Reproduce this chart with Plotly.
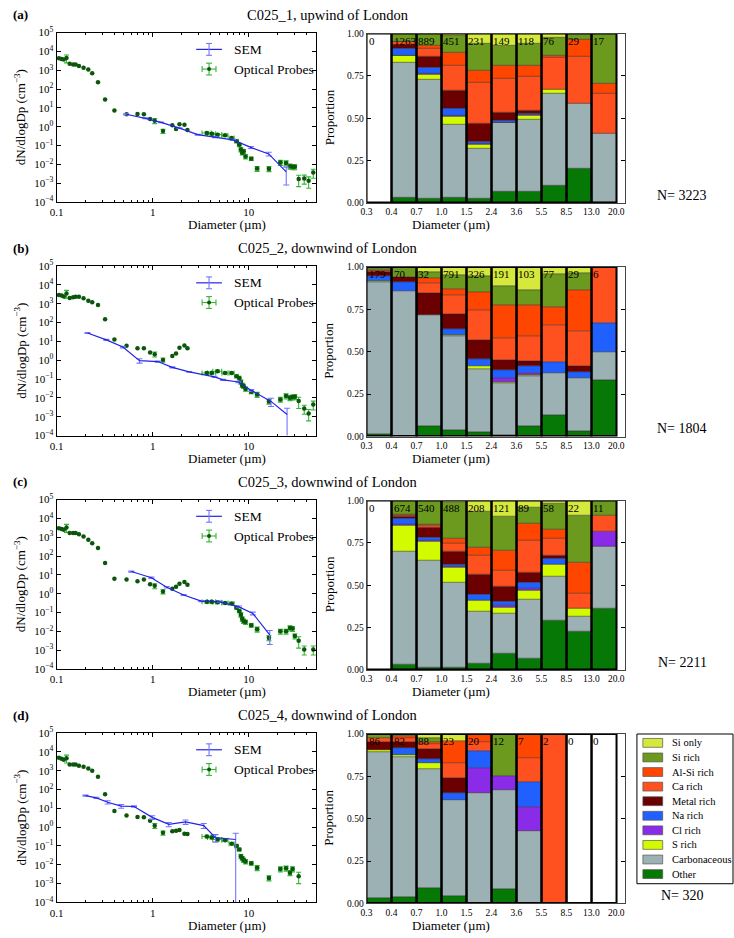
import numpy as np
import plotly.graph_objects as go

W, H = 734, 938
SERIF = "Liberation Serif"

# ---------------- text ----------------
PANEL_LABELS = ["(a)", "(b)", "(c)", "(d)"]
PANEL_TITLES = ["C025_1, upwind of London", "C025_2, downwind of London",
                "C025_3, downwind of London", "C025_4, downwind of London"]
N_TOTALS = [3223, 1804, 2211, 320]

# ---------------- composition bars ----------------
BIN_EDGES = ["0.3", "0.4", "0.7", "1.0", "1.5", "2.4", "3.6", "5.5", "8.5", "13.0", "20.0"]
COUNTS_A = [0, 1263, 889, 451, 231, 149, 118, 76, 29, 17]
COUNTS_B = [179, 70, 32, 791, 326, 191, 103, 77, 29, 6]
COUNTS_C = [0, 674, 540, 488, 208, 121, 89, 58, 22, 11]
COUNTS_D = [86, 82, 88, 23, 20, 12, 7, 2, 0, 0]

CATEGORIES = ["Other", "Carbonaceous", "S rich", "Cl rich", "Na rich",
              "Metal rich", "Ca rich", "Al-Si rich", "Si rich", "Si only"]
CAT_COLORS = ["#067806", "#9bb1b4", "#d2fb00", "#8a2be8", "#2060ff",
              "#6a0000", "#ff5020", "#ff4600", "#6b9a1f", "#d5e93c"]

PROP_A = {
    "Other":        [0, .033, .025, .033, .027, .066, .068, .102, .205, 0],
    "Carbonaceous": [0, .795, .705, .430, .293, .407, .424, .544, .383, .410],
    "S rich":       [0, .040, .026, .049, .026, 0, .026, .024, 0, 0],
    "Cl rich":      [0, .005, .006, .003, .004, .003, .002, 0, 0, 0],
    "Na rich":      [0, .040, .040, .040, .015, .008, .005, 0, 0, 0],
    "Metal rich":   [0, .025, .060, .107, .102, .047, .020, 0, 0, 0],
    "Ca rich":      [0, .012, .050, .148, .244, .201, .201, .187, .275, .236],
    "Al-Si rich":   [0, .005, .016, .077, .070, .078, .068, .012, .104, .059],
    "Si rich":      [0, .045, .072, .103, .160, .122, .127, .106, .033, .295],
    "Si only":      [0, 0, 0, .010, .059, .068, .059, .025, 0, 0],
}
PROP_B = {
    "Other":        [.016, 0, .063, .039, .025, .008, .064, .127, .034, .333],
    "Carbonaceous": [.896, .858, .656, .551, .371, .308, .291, .245, .310, .167],
    "S rich":       [.006, 0, 0, .006, .017, .004, .008, 0, 0, 0],
    "Cl rich":      [0, 0, 0, 0, 0, .023, .011, 0, 0, 0],
    "Na rich":      [.029, .057, 0, .039, .045, .047, .039, .067, .034, .167],
    "Metal rich":   [.022, .029, .125, .088, .113, .062, .031, 0, .034, 0],
    "Ca rich":      [.006, 0, .063, .111, .176, .129, .147, .220, .207, .333],
    "Al-Si rich":   [.006, 0, .031, .039, .103, .195, .185, .107, .241, 0],
    "Si rich":      [.013, .057, .031, .082, .095, .113, .088, .191, .103, 0],
    "Si only":      [.006, 0, .031, .045, .055, .111, .136, .043, .034, 0],
}
PROP_C = {
    "Other":        [0, .031, .016, .016, .037, .096, .066, .293, .227, .364],
    "Carbonaceous": [0, .666, .627, .500, .309, .240, .352, .259, .091, .364],
    "S rich":       [0, .157, .113, .088, .062, .033, .053, .069, .045, 0],
    "Cl rich":      [0, .007, .010, .005, 0, .010, .009, 0, 0, .091],
    "Na rich":      [0, .032, .013, .014, .035, .025, .036, .034, 0, 0],
    "Metal rich":   [0, .015, .063, .078, .118, .086, .058, .017, 0, 0],
    "Ca rich":      [0, .004, .012, .045, .117, .098, .190, .103, .091, .091],
    "Al-Si rich":   [0, .004, .005, .029, .045, .117, .103, .052, .182, 0],
    "Si rich":      [0, .084, .141, .215, .213, .203, .090, .155, .273, .091],
    "Si only":      [0, 0, 0, .010, .064, .092, .043, .017, .091, 0],
}
PROP_D = {
    "Other":        [.035, .037, .091, .043, 0, .083, 0, 0, 0, 0],
    "Carbonaceous": [.860, .829, .705, .565, .650, .583, .429, 0, 0, 0],
    "S rich":       [.012, .012, .034, 0, 0, 0, 0, 0, 0, 0],
    "Cl rich":      [0, 0, 0, 0, .150, .083, .143, 0, 0, 0],
    "Na rich":      [0, .037, .023, .043, .100, 0, .143, 0, 0, 0],
    "Metal rich":   [.047, .037, .057, .087, 0, 0, 0, 0, 0, 0],
    "Ca rich":      [.023, .024, .034, .087, .050, 0, .143, 1.0, 0, 0],
    "Al-Si rich":   [0, .012, .011, .130, .050, 0, .143, 0, 0, 0],
    "Si rich":      [.023, .012, .023, 0, 0, .250, 0, 0, 0, 0],
    "Si only":      [0, 0, .023, .043, 0, 0, 0, 0, 0, 0],
}

# ---------------- size distributions ----------------
OP_DIAM = [0.106, 0.113, 0.119, 0.127, 0.137, 0.149, 0.158, 0.171, 0.191, 0.214, 0.235,
           0.27, 0.32, 0.40, 0.535, 0.695, 0.81, 0.94, 1.05, 1.28, 1.60, 1.75, 1.90, 2.14,
           2.30, 3.66, 4.12, 4.72, 5.66, 6.63, 7.46, 7.95, 8.27, 8.54, 8.82, 9.25, 10.6,
           12.2, 16.2, 21.3, 24.4, 26.8, 28.5, 30.1, 33.0, 37.7, 41.9, 46.8]
OP_A = [4300, 4000, 3700, 4500, 2200, 2000, 2000, 1700, 1350, 1100, 700,
        230, 28, 7.2, 4.6, 4.8, 4.6, 2.6, 2.1, 0.59, 1.22, 0.75, 1.38, 1.27,
        0.67, 0.47, 0.43, 0.38, 0.35, 0.25, 0.17, 0.11, 0.062, 0.042, 0.05, 0.026, 0.020,
        0.006, 0.0059, 0.0126, 0.012, 0.008, 0.0074, 0.0074, 0.00166, 0.0018, 0.00136, 0.0037]
OP_B = [2900, 2700, 2460, 3550, 2000, 2180, 2350, 2350, 1940, 1450, 1200,
        850, 150, 12.6, 5.9, 4.3, 4.3, 2.6, 2.1, 1.04, 1.7, 2.3, 4.6, 6.1,
        4.3, 0.21, 0.21, 0.26, 0.21, 0.21, 0.14, 0.114, 0.07, 0.047, 0.042, 0.03, 0.021,
        0.015, 0.0065, 0.0083, 0.0125, 0.0102, 0.011, 0.0115, 0.0068, 0.0027, 0.0015, 0.0045]
OP_C = [3000, 2700, 2500, 3300, 1650, 1650, 1650, 1450, 1100, 740, 470,
        270, 43, 6.3, 5.6, 4.6, 5.6, 3.2, 2.6, 1.3, 1.8, 2.3, 3.4, 4.2,
        3.0, 0.37, 0.37, 0.35, 0.32, 0.30, 0.18, 0.12, 0.076, 0.046, 0.035, 0.031, 0.021,
        0.013, 0.0045, 0.010, 0.010, 0.015, 0.014, 0.0056, 0.0032, 0.0011, None, 0.0011]
OP_D = [4800, 4300, 3800, 4600, 2150, 2150, 2150, 1850, 1600, 1300, 1000,
        470, 56, 7.2, 4.1, 3.5, 3.4, 2.2, 1.2, 0.5, 0.6, 0.65, 0.7, 0.45,
        0.43, 0.32, 0.28, 0.22, 0.2, 0.13, 0.1, 0.065, 0.028, 0.022, 0.018, 0.015, 0.012,
        0.007, 0.002, 0.006, 0.0065, 0.0038, 0.006, None, 0.0025, None, None, None]
# relative vertical uncertainty and absolute horizontal uncertainty (µm) of the probes
OP_YREL = [None, None, None, 0.45, None, None, None, None, None, None, None,
           None, None, None, None, None, None, None, 0.3, 0.25, None, None, None, None,
           None, 0.15, 0.15, 0.15, 0.1, 0.1, 0.1, 0.1, 0.25, 0.25, 0.25, 0.25, 0.2,
           0.3, 0.3, 0.3, 0.3, 0.3, 0.3, 0.3, 0.6, 0.5, 0.6, 0.5]
OP_XERR = [None] * 25 + [0.4, 0.4, 0.5, 0.4, 0.4, 0.3, 0.3, 0.3, 0.3, 0.3, 0.3, 0.4,
                         0.5, 0.6, 0.8, 1.0, 1.0, 1.0, 1.0, None, None, None, None]

SEM_X_A = [0.53, 0.84, 1.22, 1.9, 2.94, 4.45, 6.84, 10.5, 16.1, 24.5]
SEM_Y_A = [4.6, 2.8, 1.7, 0.85, 0.38, 0.28, 0.2, 0.08, 0.036, 0.004]
SEM_E_A = [0.3, 0.15, 0.08, 0.04, 0.02, 0.02, 0.015, 0.01, 0.008, 0.0032]
SEM_X_B = [0.21, 0.33, 0.49, 0.73, 1.13, 1.6, 2.4, 4.4, 5.4, 7.8, 10.6, 17, 25]
SEM_Y_B = [28, 12, 5, 0.95, 0.85, 0.42, 0.24, 0.13, 0.09, 0.07, 0.025, 0.0065, 0.0013]
SEM_E_B = [1.5, 0.8, 0.5, 0.25, 0.06, 0.03, 0.01, 0.01, 0.006, 0.006, 0.003, 0.003, 0.0015]
SEM_X_C = [0.6, 0.97, 1.4, 2.1, 3.2, 5.0, 7.9, 11.0, 16.5]
SEM_Y_C = [15, 7.0, 2.2, 0.85, 0.4, 0.37, 0.2, 0.09, 0.0065]
SEM_E_C = [1.0, 0.6, 0.2, 0.05, 0.03, 0.03, 0.02, 0.015, 0.0045]
SEM_X_D = [0.2, 0.26, 0.34, 0.47, 0.64, 0.99, 1.47, 2.2, 3.4, 4.5, 7.3]
SEM_Y_D = [47, 36, 21, 13, 12.5, 3.3, 1.4, 1.9, 1.2, 0.28, 0.22]
SEM_E_D = [3, 3, 4, 3, 1, 0.7, 0.35, 0.5, 0.35, 0.12, 0.25]

LEFT_XTICKS = [0.1, 1, 10]
LEFT_XTICKTEXT = ["0.1", "1", "10"]
LEFT_YTICKS = [1e-4, 1e-3, 1e-2, 1e-1, 1e0, 1e1, 1e2, 1e3, 1e4, 1e5]
LEFT_YTICKTEXT = ["10<sup>\u22124</sup>", "10<sup>\u22123</sup>", "10<sup>\u22122</sup>",
                  "10<sup>\u22121</sup>", "10<sup>0</sup>", "10<sup>1</sup>", "10<sup>2</sup>",
                  "10<sup>3</sup>", "10<sup>4</sup>", "10<sup>5</sup>"]
LEFT_XMINOR = [0.2, 0.3, 0.4, 0.5, 0.6, 0.7, 0.8, 0.9, 2, 3, 4, 5, 6, 7, 8, 9, 20, 30, 40, 50]
PROP_TICKS = [0, 0.25, 0.5, 0.75, 1.0]
PROP_TICKTEXT = ["0.00", "0.25", "0.50", "0.75", "1.00"]

PANELS = [
    (COUNTS_A, PROP_A, OP_A, SEM_X_A, SEM_Y_A, SEM_E_A),
    (COUNTS_B, PROP_B, OP_B, SEM_X_B, SEM_Y_B, SEM_E_B),
    (COUNTS_C, PROP_C, OP_C, SEM_X_C, SEM_Y_C, SEM_E_C),
    (COUNTS_D, PROP_D, OP_D, SEM_X_D, SEM_Y_D, SEM_E_D),
]

# ---------------- styling / layout ----------------
SEM_LINE = "#2323e6"
SEM_ERR = "#7474ff"
OP_MARK = "#0b560b"
OP_ERR = "#35b535"

ROW_TOP = [25, 262, 499, 736]
PLOT_H = 172
L_X0, L_X1 = 50, 312
R_X0, R_X1 = 363, 624


def px(x):
    return x / W


def py(y):
    return 1 - y / H


def ax_name(kind, n):
    return f"{kind}axis" + ("" if n == 1 else str(n))


def ref(kind, n):
    return kind + ("" if n == 1 else str(n))


fig = go.Figure()
layout_axes = {}
annotations = []
shapes = []

OP_DIAM_ARR = np.array(OP_DIAM, dtype=float)
OP_YREL_ARR = np.array(OP_YREL, dtype=float)
OP_XERR_ARR = np.array(OP_XERR, dtype=float)
centers = np.arange(len(BIN_EDGES) - 1) + 0.5

for i, (counts, props, op_y, sx, sy, se) in enumerate(PANELS):
    top = ROW_TOP[i]
    bot = top + PLOT_H
    nl, nr = 2 * i + 1, 2 * i + 2

    # ---- left: size distribution ----
    op_arr = np.array(op_y, dtype=float)
    fig.add_trace(go.Scatter(
        x=OP_DIAM_ARR, y=op_arr, mode="markers",
        marker=dict(size=4.5, color=OP_MARK, line=dict(width=0)),
        error_y=dict(type="data", array=op_arr * OP_YREL_ARR, color=OP_ERR, thickness=1.1, width=2.5),
        error_x=dict(type="data", array=OP_XERR_ARR, color=OP_ERR, thickness=1.1, width=2.5),
        xaxis=ref("x", nl), yaxis=ref("y", nl), showlegend=False))
    fig.add_trace(go.Scatter(
        x=sx, y=sy, mode="lines",
        line=dict(color=SEM_LINE, width=1.2),
        error_y=dict(type="data", array=se, color=SEM_ERR, thickness=1.1, width=3),
        xaxis=ref("x", nl), yaxis=ref("y", nl), showlegend=False))

    common = dict(showline=True, linecolor="black", linewidth=1, mirror="ticks",
                  ticks="inside", tickcolor="black", ticklen=4, showgrid=False,
                  zeroline=False, tickfont=dict(family=SERIF, size=11, color="black"))
    layout_axes[ax_name("x", nl)] = dict(
        type="log", range=[-1, np.log10(50)], domain=[px(L_X0), px(L_X1)],
        anchor=ref("y", nl), tickvals=LEFT_XTICKS, ticktext=LEFT_XTICKTEXT,
        minor=dict(ticks="inside", ticklen=2, tickcolor="black", tickvals=LEFT_XMINOR,
                   showgrid=False),
        **common)
    layout_axes[ax_name("y", nl)] = dict(
        type="log", range=[-4, 5], domain=[py(bot), py(top)],
        anchor=ref("x", nl), tickvals=LEFT_YTICKS, ticktext=LEFT_YTICKTEXT, **common)

    # ---- right: composition ----
    mat = np.array([props[c] for c in CATEGORIES], dtype=float)
    tot = mat.sum(axis=0)
    tot[tot == 0] = 1.0
    mat = mat / tot
    base = np.vstack([np.zeros(mat.shape[1]), np.cumsum(mat, axis=0)[:-1]])
    for k, cat in enumerate(CATEGORIES):
        yv = [v if v > 0 else None for v in mat[k]]
        fig.add_trace(go.Bar(
            x=centers, y=yv, base=base[k], width=1.0,
            marker=dict(color=CAT_COLORS[k], line=dict(color="rgba(40,40,40,0.6)", width=0.7)),
            xaxis=ref("x", nr), yaxis=ref("y", nr), showlegend=False, name=cat))
    fig.add_trace(go.Bar(
        x=centers, y=[1.0] * len(centers), base=0, width=1.0,
        marker=dict(color="rgba(0,0,0,0)", line=dict(color="black", width=2)),
        xaxis=ref("x", nr), yaxis=ref("y", nr), showlegend=False, hoverinfo="skip"))

    layout_axes[ax_name("x", nr)] = dict(
        range=[0, 10.35], domain=[px(R_X0), px(R_X1)], anchor=ref("y", nr),
        tickvals=list(range(len(BIN_EDGES))), ticktext=BIN_EDGES,
        showline=True, linecolor="#444", linewidth=1, mirror=True, ticks="",
        showgrid=False, zeroline=False,
        tickfont=dict(family=SERIF, size=9.5, color="black"))
    layout_axes[ax_name("y", nr)] = dict(
        range=[0, 1], domain=[py(bot + 1), py(top + 1)], anchor=ref("x", nr),
        tickvals=PROP_TICKS, ticktext=PROP_TICKTEXT,
        showline=True, linecolor="#444", linewidth=1, mirror="ticks",
        ticks="inside", ticklen=4, tickcolor="black", showgrid=False, zeroline=False,
        tickfont=dict(family=SERIF, size=9.5, color="black"))

    for j, c in enumerate(counts):
        annotations.append(dict(
            x=j + 0.04, y=1.0, xref=ref("x", nr), yref=ref("y", nr),
            text=str(c), showarrow=False, xanchor="left", yanchor="top",
            borderpad=0, font=dict(family=SERIF, size=11, color="black")))

    # ---- text ----
    tf = dict(family=SERIF, color="black")
    annotations += [
        dict(x=px(4), y=py(top - 18), xref="paper", yref="paper", text=f"<b>{PANEL_LABELS[i]}</b>",
             showarrow=False, xanchor="left", yanchor="middle", font=dict(size=13, **tf)),
        dict(x=px(324), y=py(top - 18), xref="paper", yref="paper", text=PANEL_TITLES[i],
             showarrow=False, xanchor="center", yanchor="middle", font=dict(size=14.5, **tf)),
        dict(x=px((L_X0 + L_X1) / 2), y=py(bot + 23), xref="paper", yref="paper",
             text="Diameter (\u00b5m)", showarrow=False, yanchor="middle", font=dict(size=13, **tf)),
        dict(x=px(13), y=py((top + bot) / 2), xref="paper", yref="paper",
             text="dN/dlogDp (cm<sup>\u22123</sup>)", textangle=-90, showarrow=False,
             xanchor="center", yanchor="middle", font=dict(size=13, **tf)),
        dict(x=px(490), y=py(bot + 23), xref="paper", yref="paper",
             text="Diameter (\u00b5m)", showarrow=False, yanchor="middle", font=dict(size=13, **tf)),
        dict(x=px(325), y=py((top + bot) / 2), xref="paper", yref="paper",
             text="Proportion", textangle=-90, showarrow=False,
             xanchor="center", yanchor="middle", font=dict(size=13, **tf)),
        dict(x=px(682), y=py(bot - 7), xref="paper", yref="paper", text=f"N= {N_TOTALS[i]}",
             showarrow=False, xanchor="center", yanchor="middle", font=dict(size=14, **tf)),
        dict(x=px(227), y=py(top + 17), xref="paper", yref="paper", text="SEM",
             showarrow=False, xanchor="left", yanchor="middle", font=dict(size=13.5, **tf)),
        dict(x=px(227), y=py(top + 37), xref="paper", yref="paper", text="Optical Probes",
             showarrow=False, xanchor="left", yanchor="middle", font=dict(size=13.5, **tf)),
    ]

    # ---- in-plot legend glyphs ----
    def seg(x0, y0, x1, y1, color, w=1.1):
        return dict(type="line", xref="paper", yref="paper", x0=px(x0), y0=py(y0),
                    x1=px(x1), y1=py(y1), line=dict(color=color, width=w))
    ys, yo = top + 17, top + 37
    shapes += [
        seg(191, ys, 217, ys, SEM_LINE, 1.2),
        seg(204, ys - 6, 204, ys + 6, SEM_ERR), seg(201, ys - 6, 207, ys - 6, SEM_ERR),
        seg(201, ys + 6, 207, ys + 6, SEM_ERR),
        seg(197, yo, 211, yo, OP_ERR), seg(204, yo - 6, 204, yo + 6, OP_ERR),
        seg(201, yo - 6, 207, yo - 6, OP_ERR), seg(201, yo + 6, 207, yo + 6, OP_ERR),
        seg(197, yo - 3, 197, yo + 3, OP_ERR), seg(211, yo - 3, 211, yo + 3, OP_ERR),
        dict(type="circle", xref="paper", yref="paper", x0=px(202), x1=px(206),
             y0=py(yo + 2), y1=py(yo - 2), fillcolor=OP_MARK, line=dict(width=0)),
    ]

# ---------------- category legend ----------------
LEG_X0, LEG_X1, LEG_Y0, LEG_Y1 = 636, 733, 737, 889
shapes.append(dict(type="rect", xref="paper", yref="paper", x0=px(LEG_X0), x1=px(LEG_X1),
                   y0=py(LEG_Y1), y1=py(LEG_Y0), line=dict(color="black", width=1),
                   fillcolor="white"))
for k, cat in enumerate(reversed(CATEGORIES)):
    col = CAT_COLORS[len(CATEGORIES) - 1 - k]
    yc = 746 + 14.8 * k
    shapes.append(dict(type="rect", xref="paper", yref="paper", x0=px(642), x1=px(662),
                       y0=py(yc + 4.5), y1=py(yc - 4.5), fillcolor=col,
                       line=dict(color="#555", width=0.7)))
    annotations.append(dict(x=px(669), y=py(yc), xref="paper", yref="paper", text=cat,
                            showarrow=False, xanchor="left", yanchor="middle",
                            font=dict(family=SERIF, size=10.5, color="black")))

fig.update_layout(
    width=W, height=H, autosize=False,
    margin=dict(l=0, r=0, t=0, b=0),
    paper_bgcolor="white", plot_bgcolor="white",
    barmode="overlay", bargap=0,
    showlegend=False,
    annotations=annotations, shapes=shapes,
    **layout_axes,
)

fig.write_html("out.html", config={"displayModeBar": False},
               post_script="document.body.style.margin='0px';document.body.style.overflow='hidden';")
